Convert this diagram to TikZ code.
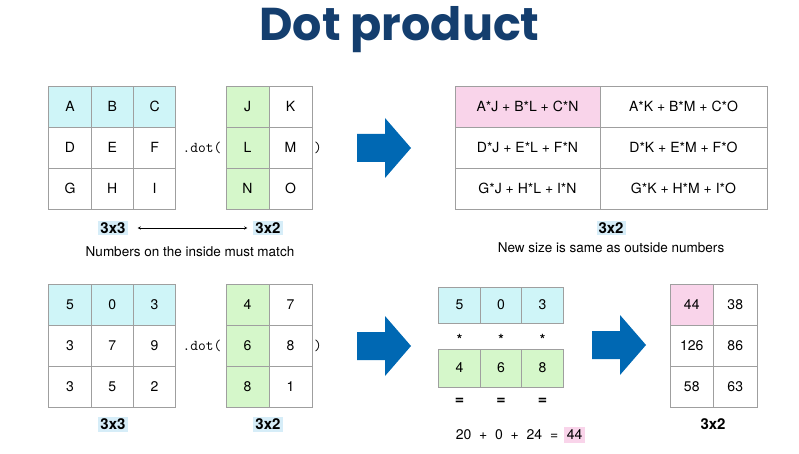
\documentclass[tikz,border=0pt]{standalone}
\usepackage{fontspec}
\setmainfont{TeX Gyre Heros}
\newfontfamily\titlefont{Poppins}
\usepackage{tikz}
\usepackage{xcolor}
\definecolor{rowcyan}{HTML}{CFF5F8}
\definecolor{colgreen}{HTML}{D5F7CA}
\definecolor{hitpink}{HTML}{F9D4EA}
\definecolor{arrowblue}{HTML}{0068B3}
\definecolor{titlenavy}{HTML}{143E6E}
\definecolor{tagblue}{HTML}{D6EDF8}
\newcommand{\bigarrow}[2]{% tail x, centre y
  \fill[arrowblue] (#1,#2-14) -- ++(28,0) -- ++(0,-16) -- ++(26,30) -- ++(-26,30) -- ++(0,-16) -- ++(-28,0) -- cycle;}

\begin{document}
\begin{tikzpicture}[x=1pt,y=-1pt]
      \useasboundingbox (0,0) rectangle (799,454);
      \tikzset{C/.style = {draw=gray!75, line width=0.8pt, minimum width=42.3pt, minimum height=41pt, inner sep=0pt, text=black, font=\fontsize{14}{16}\selectfont}}
      \tikzset{T/.style = {fill=tagblue, inner sep=2pt, font=\bfseries\fontsize{15}{17}\selectfont}}
      \tikzset{S/.style = {font=\fontsize{13.5}{16}\selectfont}}
      \tikzset{D/.style = {font=\ttfamily\fontsize{15}{17}\selectfont}}
      \node[font=\titlefont\bfseries\fontsize{46}{50}\selectfont, text=titlenavy] (title) at (399.5,30) {Dot product};
      % top left: letters
      \foreach \t [count=\i from 0] in {A,B,C,D,E,F,G,H,I}{
        \pgfmathtruncatemacro{\r}{int(\i/3)}
        \pgfmathtruncatemacro{\c}{mod(\i,3)}
        \ifnum\r=0 \def\bg{rowcyan}\else\def\bg{white}\fi
        \node[C,fill=\bg] (a\i) at (70+42.3*\c,106.5+41*\r) {\t};
      }
      \foreach \t [count=\i from 0] in {J,K,L,M,N,O}{
        \pgfmathtruncatemacro{\r}{int(\i/2)}
        \pgfmathtruncatemacro{\c}{mod(\i,2)}
        \ifnum\c=0 \def\bg{colgreen}\else\def\bg{white}\fi
        \node[C,fill=\bg,minimum width=43pt] (b\i) at (247.5+43*\c,106.5+41*\r) {\t};
      }
      \node[D] (dot1) at (202,148) {.dot(};
      \node[D] (cls1) at (318,148) {)};
      \node[T] (ta) at (113,228) {3x3};
      \node[T] (tb) at (268,228) {3x2};
      \draw[<->,>=stealth,thin] ([xshift=10pt]ta.east) -- ([xshift=-6pt]tb.west);
      \node[S] (inside) at (190,252) {Numbers on the inside must match};
      \bigarrow{357}{148}
      % top right: formulas
      \foreach \t [count=\i from 0] in {A*J + B*L + C*N, A*K + B*M + C*O, D*J + E*L + F*N, D*K + E*M + F*O, G*J + H*L + I*N, G*K + H*M + I*O}{
        \pgfmathtruncatemacro{\r}{int(\i/2)}
        \pgfmathtruncatemacro{\c}{mod(\i,2)}
        \ifnum\i=0 \def\bg{hitpink}\else\def\bg{white}\fi
        \ifnum\c=0
          \node[C,fill=\bg,minimum width=145pt] (f\i) at (527.5,106.5+41*\r) {\t};
        \else
          \node[C,fill=\bg,minimum width=167pt] (f\i) at (683.5,106.5+41*\r) {\t};
        \fi
      }
      \node[T] (tf) at (611,228) {3x2};
      \node[S] (outside) at (611,248) {New size is same as outside numbers};
      % bottom left: numbers
      \foreach \t [count=\i from 0] in {5,0,3,3,7,9,3,5,2}{
        \pgfmathtruncatemacro{\r}{int(\i/3)}
        \pgfmathtruncatemacro{\c}{mod(\i,3)}
        \ifnum\r=0 \def\bg{rowcyan}\else\def\bg{white}\fi
        \node[C,fill=\bg] (n\i) at (70+42.3*\c,304.5+41*\r) {\t};
      }
      \foreach \t [count=\i from 0] in {4,7,6,8,8,1}{
        \pgfmathtruncatemacro{\r}{int(\i/2)}
        \pgfmathtruncatemacro{\c}{mod(\i,2)}
        \ifnum\c=0 \def\bg{colgreen}\else\def\bg{white}\fi
        \node[C,fill=\bg,minimum width=43pt] (m\i) at (247.5+43*\c,304.5+41*\r) {\t};
      }
      \node[D] (dot2) at (202,346) {.dot(};
      \node[D] (cls2) at (318,346) {)};
      \node[T] (tn) at (113,424) {3x3};
      \node[T] (tm) at (268,424) {3x2};
      \bigarrow{357}{346}
      % row times column
      \foreach \u/\v [count=\i from 0] in {5/4,0/6,3/8}{
        \node[C,fill=rowcyan,minimum width=41.5pt,minimum height=36pt] (u\i) at (459.5+41.5*\i,305) {\u};
        \node[C,fill=colgreen,minimum width=41.5pt,minimum height=38pt] (v\i) at (459.5+41.5*\i,368) {\v};
        \node[font=\bfseries\fontsize{14}{16}\selectfont] (st\i) at (459.5+41.5*\i,339) {*};
        \node[font=\bfseries\fontsize{16}{18}\selectfont] (eq\i) at (459.5+41.5*\i,401) {=};
      }
      \node[font=\fontsize{14}{16}\selectfont] (sum) at (507,435) {20\ \ +\ \ 0\ \ +\ \ 24\ \ =};
      \node[fill=hitpink,inner sep=3pt,font=\fontsize{14}{16}\selectfont,anchor=west] (res) at ([xshift=2pt]sum.east) {44};
      \bigarrow{592}{345}
      \foreach \t [count=\i from 0] in {44,38,126,86,58,63}{
        \pgfmathtruncatemacro{\r}{int(\i/2)}
        \pgfmathtruncatemacro{\c}{mod(\i,2)}
        \ifnum\i=0 \def\bg{hitpink}\else\def\bg{white}\fi
        \node[C,fill=\bg,minimum width=43.5pt] (r\i) at (691.75+43.5*\c,304.5+41*\r) {\t};
      }
      \node[font=\bfseries\fontsize{15}{17}\selectfont] (tr) at (713,424) {3x2};
    \end{tikzpicture}
\end{document}
